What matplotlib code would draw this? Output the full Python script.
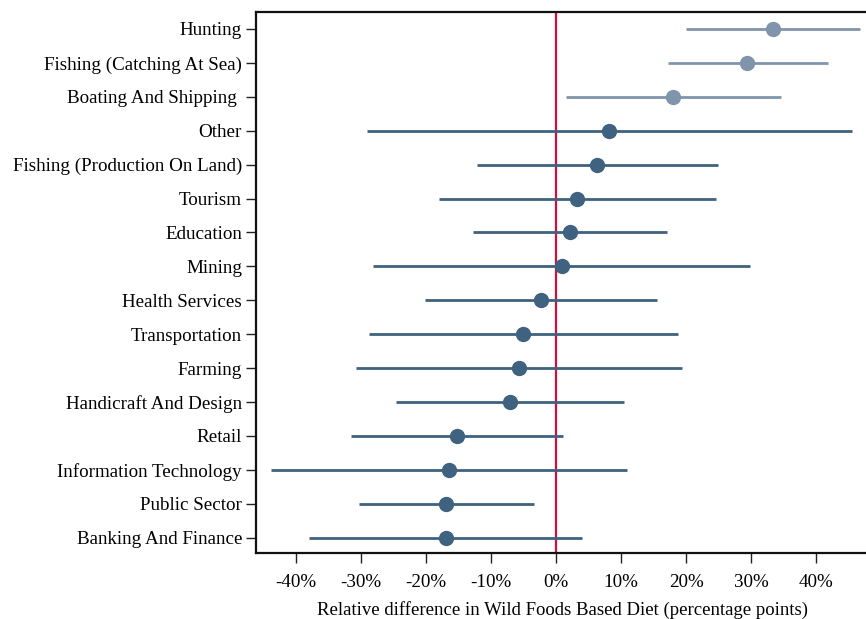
import numpy as np
import matplotlib.pyplot as plt

# categories, top to bottom
categories = ['Hunting', 'Fishing (Catching At Sea)', 'Boating And Shipping ', 'Other',
              'Fishing (Production On Land)', 'Tourism', 'Education', 'Mining',
              'Health Services', 'Transportation', 'Farming', 'Handicraft And Design',
              'Retail', 'Information Technology', 'Public Sector', 'Banking And Finance']
estimate = [33.4, 29.4, 18.0, 8.2, 6.3, 3.2, 2.2, 0.9,
            -2.3, -5.1, -5.7, -7.1, -15.2, -16.5, -16.9, -16.9]
ci_low = [20.0, 17.2, 1.5, -29.1, -12.2, -18.0, -12.8, -28.2,
          -20.2, -28.8, -30.8, -24.6, -31.5, -43.8, -30.3, -38.0]
ci_high = [46.8, 41.8, 34.6, 45.5, 24.9, 24.6, 17.1, 29.8,
           15.5, 18.8, 19.4, 10.5, 1.1, 10.9, -3.4, 4.0]
highlight = [True, True, True] + [False] * 13

plt.rcParams['font.family'] = ['Liberation Serif', 'DejaVu Serif']

fig = plt.figure(figsize=(8.66, 6.19), dpi=100)
ax = fig.add_axes([0.2956, 0.1066, 0.709, 0.874])

dark = '#3e6280'
light = '#8095ab'
n = len(categories)
ypos = np.arange(n)[::-1]

for i in range(n):
    c = light if highlight[i] else dark
    ax.plot([ci_low[i], ci_high[i]], [ypos[i], ypos[i]], color=c, lw=2, solid_capstyle='butt', zorder=2)
    ax.plot(estimate[i], ypos[i], 'o', color=c, ms=10, zorder=3)

ax.axvline(0, color='#d0103a', lw=1.6, zorder=1)

ax.set_xlim(-46.15, 48.3)
ax.set_ylim(-0.45, 15.5)
ax.set_yticks(ypos)
ax.set_yticklabels(categories, fontsize=13.7)
xt = np.arange(-40, 41, 10)
ax.set_xticks(xt)
ax.set_xticklabels([f'{v}%' for v in xt], fontsize=13.7)
ax.set_xlabel('Relative difference in Wild Foods Based Diet (percentage points)', fontsize=13.5, labelpad=7)
ax.tick_params(axis='y', direction='out', length=7, width=1, color='#222222', pad=3)
ax.tick_params(axis='x', direction='out', length=7, width=1, color='#222222', pad=8)
for s in ax.spines.values():
    s.set_linewidth(1.6)
    s.set_color('#111111')

fig.savefig('out.png', dpi=100)
